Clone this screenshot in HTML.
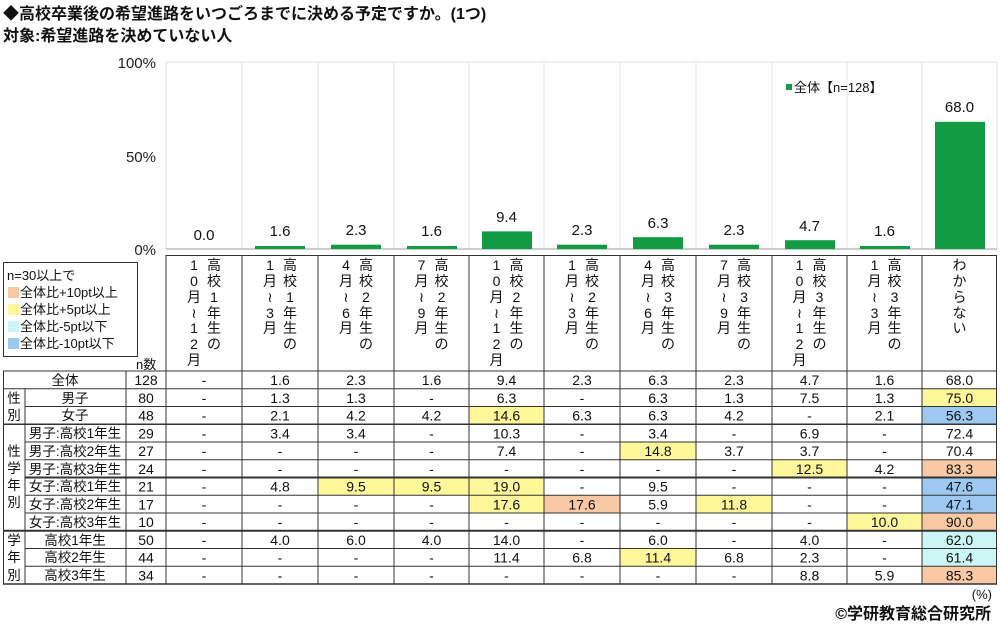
<!DOCTYPE html>
<html><head><meta charset="utf-8"><style>
body{margin:0;background:#fff}
svg{display:block;font-family:"Liberation Sans","Noto Sans CJK JP",sans-serif}
</style></head><body>
<svg width="1000" height="626" viewBox="0 0 1000 626" xmlns="http://www.w3.org/2000/svg">
<rect width="1000" height="626" fill="#fff"/>
<text x="3" y="19" font-size="16" font-weight="bold" fill="#111">◆高校卒業後の希望進路をいつごろまでに決める予定ですか。(1つ)</text>
<text x="3" y="41" font-size="16" font-weight="bold" fill="#111">対象:希望進路を決めていない人</text>
<g stroke="#e2e2e2" stroke-width="1">
<line x1="166" y1="62" x2="997" y2="62"/>
<line x1="166" y1="62" x2="166" y2="249"/><line x1="242" y1="62" x2="242" y2="249"/><line x1="318" y1="62" x2="318" y2="249"/><line x1="394" y1="62" x2="394" y2="249"/><line x1="469" y1="62" x2="469" y2="249"/><line x1="544" y1="62" x2="544" y2="249"/><line x1="620" y1="62" x2="620" y2="249"/><line x1="696" y1="62" x2="696" y2="249"/><line x1="772" y1="62" x2="772" y2="249"/><line x1="847" y1="62" x2="847" y2="249"/><line x1="922" y1="62" x2="922" y2="249"/><line x1="997" y1="62" x2="997" y2="249"/>
</g>
<line x1="166" y1="249" x2="997" y2="249" stroke="#999" stroke-width="1"/>
<g font-size="15" fill="#222" text-anchor="end">
<text x="156" y="68">100%</text><text x="156" y="162">50%</text><text x="156" y="255">0%</text>
</g>
<g fill="#139b43">
<rect x="255" y="246" width="50" height="3"/><rect x="331" y="244.7" width="50" height="4.3"/><rect x="407" y="246" width="50" height="3"/><rect x="482" y="231.4" width="50" height="17.6"/><rect x="557" y="244.7" width="50" height="4.3"/><rect x="633" y="237.2" width="50" height="11.8"/><rect x="709" y="244.7" width="50" height="4.3"/><rect x="785" y="240.2" width="50" height="8.8"/><rect x="860" y="246" width="50" height="3"/><rect x="935" y="121.8" width="50" height="127.2"/>
</g>
<g font-size="15" fill="#111" text-anchor="middle">
<text x="204" y="240">0.0</text><text x="280" y="236">1.6</text><text x="356" y="235">2.3</text><text x="431.5" y="236">1.6</text><text x="506.5" y="222">9.4</text><text x="582" y="235">2.3</text><text x="658" y="228">6.3</text><text x="734" y="235">2.3</text><text x="809.5" y="231">4.7</text><text x="884.5" y="236">1.6</text><text x="959.5" y="112">68.0</text>
</g>
<rect x="786" y="84" width="6" height="6" fill="#139b43"/>
<text x="794" y="92" font-size="13" fill="#111">全体【n=128】</text>
<rect x="3.5" y="262.5" width="134" height="94" fill="#fff" stroke="#333" stroke-width="1"/>
<g font-size="13" fill="#111">
<text x="7" y="280">n=30以上で</text>
<rect x="8" y="287" width="11" height="11" fill="#f8c9a4"/><text x="20" y="297">全体比+10pt以上</text>
<rect x="8" y="304" width="11" height="11" fill="#fff79a"/><text x="20" y="314">全体比+5pt以上</text>
<rect x="8" y="321" width="11" height="11" fill="#ccf6f6"/><text x="20" y="331">全体比-5pt以下</text>
<rect x="8" y="338" width="11" height="11" fill="#9dc8f0"/><text x="20" y="348">全体比-10pt以下</text>
</g>
<text x="136" y="369" font-size="13" fill="#111">n数</text>
<g>
<rect x="922" y="388.75" width="75" height="17.75" fill="#fff79a"/>
<rect x="469" y="406.5" width="75" height="17.75" fill="#fff79a"/>
<rect x="922" y="406.5" width="75" height="17.75" fill="#9dc8f0"/>
<rect x="620" y="442" width="76" height="17.75" fill="#fff79a"/>
<rect x="772" y="459.75" width="75" height="17.75" fill="#fff79a"/>
<rect x="922" y="459.75" width="75" height="17.75" fill="#f8c9a4"/>
<rect x="318" y="477.5" width="151" height="17.75" fill="#fff79a"/>
<rect x="469" y="477.5" width="75" height="17.75" fill="#fff79a"/>
<rect x="922" y="477.5" width="75" height="17.75" fill="#9dc8f0"/>
<rect x="469" y="495.25" width="75" height="17.75" fill="#fff79a"/>
<rect x="544" y="495.25" width="76" height="17.75" fill="#f8c9a4"/>
<rect x="696" y="495.25" width="76" height="17.75" fill="#fff79a"/>
<rect x="922" y="495.25" width="75" height="17.75" fill="#9dc8f0"/>
<rect x="847" y="513" width="75" height="17.75" fill="#fff79a"/>
<rect x="922" y="513" width="75" height="17.75" fill="#f8c9a4"/>
<rect x="922" y="530.75" width="75" height="17.75" fill="#ccf6f6"/>
<rect x="620" y="548.5" width="76" height="17.75" fill="#fff79a"/>
<rect x="922" y="548.5" width="75" height="17.75" fill="#ccf6f6"/>
<rect x="922" y="566.25" width="75" height="17.75" fill="#f8c9a4"/>
</g>
<g stroke="#333" stroke-width="1" fill="none">
<line x1="166" y1="255.5" x2="997" y2="255.5"/>
<line x1="3" y1="371" x2="997" y2="371"/>
<line x1="3" y1="388.75" x2="997" y2="388.75"/>
<line x1="25" y1="406.5" x2="997" y2="406.5"/>
<line x1="3" y1="424.25" x2="997" y2="424.25" stroke-width="1.5"/>
<line x1="25" y1="442" x2="997" y2="442"/>
<line x1="25" y1="459.75" x2="997" y2="459.75"/>
<line x1="25" y1="477.5" x2="997" y2="477.5" stroke-width="2"/>
<line x1="25" y1="495.25" x2="997" y2="495.25"/>
<line x1="25" y1="513" x2="997" y2="513"/>
<line x1="3" y1="530.75" x2="997" y2="530.75" stroke-width="2"/>
<line x1="25" y1="548.5" x2="997" y2="548.5"/>
<line x1="25" y1="566.25" x2="997" y2="566.25"/>
<line x1="3" y1="584" x2="997" y2="584" stroke-width="1.5"/>
<line x1="3.5" y1="371" x2="3.5" y2="584"/>
<line x1="25" y1="388.75" x2="25" y2="584"/>
<line x1="126" y1="371" x2="126" y2="584"/>
<line x1="166" y1="255" x2="166" y2="584"/>
<line x1="242" y1="255" x2="242" y2="584"/><line x1="318" y1="255" x2="318" y2="584"/><line x1="394" y1="255" x2="394" y2="584"/><line x1="469" y1="255" x2="469" y2="584"/><line x1="544" y1="255" x2="544" y2="584"/><line x1="620" y1="255" x2="620" y2="584"/><line x1="696" y1="255" x2="696" y2="584"/><line x1="772" y1="255" x2="772" y2="584"/><line x1="847" y1="255" x2="847" y2="584"/><line x1="922" y1="255" x2="922" y2="584"/><line x1="996.5" y1="255" x2="996.5" y2="584"/>
</g>
<g font-size="14" fill="#111" text-anchor="middle">
<g transform="translate(194,0)"><text y="270">1</text><text y="286">0</text><text y="302">月</text><text y="318">≀</text><text y="333">1</text><text y="349">2</text><text y="365">月</text></g>
<g transform="translate(214,0)"><text y="270">高</text><text y="286">校</text><text y="302">1</text><text y="318">年</text><text y="333">生</text><text y="349">の</text></g>
<g transform="translate(270,0)"><text y="270">1</text><text y="286">月</text><text y="302">≀</text><text y="318">3</text><text y="333">月</text></g>
<g transform="translate(290,0)"><text y="270">高</text><text y="286">校</text><text y="302">1</text><text y="318">年</text><text y="333">生</text><text y="349">の</text></g>
<g transform="translate(346,0)"><text y="270">4</text><text y="286">月</text><text y="302">≀</text><text y="318">6</text><text y="333">月</text></g>
<g transform="translate(366,0)"><text y="270">高</text><text y="286">校</text><text y="302">2</text><text y="318">年</text><text y="333">生</text><text y="349">の</text></g>
<g transform="translate(421.5,0)"><text y="270">7</text><text y="286">月</text><text y="302">≀</text><text y="318">9</text><text y="333">月</text></g>
<g transform="translate(441.5,0)"><text y="270">高</text><text y="286">校</text><text y="302">2</text><text y="318">年</text><text y="333">生</text><text y="349">の</text></g>
<g transform="translate(496.5,0)"><text y="270">1</text><text y="286">0</text><text y="302">月</text><text y="318">≀</text><text y="333">1</text><text y="349">2</text><text y="365">月</text></g>
<g transform="translate(516.5,0)"><text y="270">高</text><text y="286">校</text><text y="302">2</text><text y="318">年</text><text y="333">生</text><text y="349">の</text></g>
<g transform="translate(572,0)"><text y="270">1</text><text y="286">月</text><text y="302">≀</text><text y="318">3</text><text y="333">月</text></g>
<g transform="translate(592,0)"><text y="270">高</text><text y="286">校</text><text y="302">2</text><text y="318">年</text><text y="333">生</text><text y="349">の</text></g>
<g transform="translate(648,0)"><text y="270">4</text><text y="286">月</text><text y="302">≀</text><text y="318">6</text><text y="333">月</text></g>
<g transform="translate(668,0)"><text y="270">高</text><text y="286">校</text><text y="302">3</text><text y="318">年</text><text y="333">生</text><text y="349">の</text></g>
<g transform="translate(724,0)"><text y="270">7</text><text y="286">月</text><text y="302">≀</text><text y="318">9</text><text y="333">月</text></g>
<g transform="translate(744,0)"><text y="270">高</text><text y="286">校</text><text y="302">3</text><text y="318">年</text><text y="333">生</text><text y="349">の</text></g>
<g transform="translate(799.5,0)"><text y="270">1</text><text y="286">0</text><text y="302">月</text><text y="318">≀</text><text y="333">1</text><text y="349">2</text><text y="365">月</text></g>
<g transform="translate(819.5,0)"><text y="270">高</text><text y="286">校</text><text y="302">3</text><text y="318">年</text><text y="333">生</text><text y="349">の</text></g>
<g transform="translate(874.5,0)"><text y="270">1</text><text y="286">月</text><text y="302">≀</text><text y="318">3</text><text y="333">月</text></g>
<g transform="translate(894.5,0)"><text y="270">高</text><text y="286">校</text><text y="302">3</text><text y="318">年</text><text y="333">生</text><text y="349">の</text></g>
<g transform="translate(959.5,0)"><text y="270">わ</text><text y="286">か</text><text y="302">ら</text><text y="318">な</text><text y="333">い</text></g>
</g>
<g font-size="13.5" fill="#111" text-anchor="middle">
<text x="65" y="385">全体</text>
<text x="14" y="403">性</text><text x="14" y="420">別</text>
<text x="75" y="403">男子</text><text x="75" y="420">女子</text>
<text x="14" y="456">性</text><text x="14" y="473">学</text><text x="14" y="490">年</text><text x="14" y="507">別</text>
<text x="75" y="438">男子:高校1年生</text><text x="75" y="456">男子:高校2年生</text><text x="75" y="474">男子:高校3年生</text>
<text x="75" y="491">女子:高校1年生</text><text x="75" y="509">女子:高校2年生</text><text x="75" y="527">女子:高校3年生</text>
<text x="14" y="545">学</text><text x="14" y="562">年</text><text x="14" y="580">別</text>
<text x="75" y="545">高校1年生</text><text x="75" y="562">高校2年生</text><text x="75" y="580">高校3年生</text>
</g>
<g font-size="14" fill="#111" text-anchor="middle">
<g transform="translate(0,385)"><text x="146">128</text><text x="204">-</text><text x="280">1.6</text><text x="356">2.3</text><text x="431.5">1.6</text><text x="506.5">9.4</text><text x="582">2.3</text><text x="658">6.3</text><text x="734">2.3</text><text x="809.5">4.7</text><text x="884.5">1.6</text><text x="959.5">68.0</text></g>
<g transform="translate(0,402.75)"><text x="146">80</text><text x="204">-</text><text x="280">1.3</text><text x="356">1.3</text><text x="431.5">-</text><text x="506.5">6.3</text><text x="582">-</text><text x="658">6.3</text><text x="734">1.3</text><text x="809.5">7.5</text><text x="884.5">1.3</text><text x="959.5">75.0</text></g>
<g transform="translate(0,420.5)"><text x="146">48</text><text x="204">-</text><text x="280">2.1</text><text x="356">4.2</text><text x="431.5">4.2</text><text x="506.5">14.6</text><text x="582">6.3</text><text x="658">6.3</text><text x="734">4.2</text><text x="809.5">-</text><text x="884.5">2.1</text><text x="959.5">56.3</text></g>
<g transform="translate(0,438.25)"><text x="146">29</text><text x="204">-</text><text x="280">3.4</text><text x="356">3.4</text><text x="431.5">-</text><text x="506.5">10.3</text><text x="582">-</text><text x="658">3.4</text><text x="734">-</text><text x="809.5">6.9</text><text x="884.5">-</text><text x="959.5">72.4</text></g>
<g transform="translate(0,456)"><text x="146">27</text><text x="204">-</text><text x="280">-</text><text x="356">-</text><text x="431.5">-</text><text x="506.5">7.4</text><text x="582">-</text><text x="658">14.8</text><text x="734">3.7</text><text x="809.5">3.7</text><text x="884.5">-</text><text x="959.5">70.4</text></g>
<g transform="translate(0,473.75)"><text x="146">24</text><text x="204">-</text><text x="280">-</text><text x="356">-</text><text x="431.5">-</text><text x="506.5">-</text><text x="582">-</text><text x="658">-</text><text x="734">-</text><text x="809.5">12.5</text><text x="884.5">4.2</text><text x="959.5">83.3</text></g>
<g transform="translate(0,491.5)"><text x="146">21</text><text x="204">-</text><text x="280">4.8</text><text x="356">9.5</text><text x="431.5">9.5</text><text x="506.5">19.0</text><text x="582">-</text><text x="658">9.5</text><text x="734">-</text><text x="809.5">-</text><text x="884.5">-</text><text x="959.5">47.6</text></g>
<g transform="translate(0,509.25)"><text x="146">17</text><text x="204">-</text><text x="280">-</text><text x="356">-</text><text x="431.5">-</text><text x="506.5">17.6</text><text x="582">17.6</text><text x="658">5.9</text><text x="734">11.8</text><text x="809.5">-</text><text x="884.5">-</text><text x="959.5">47.1</text></g>
<g transform="translate(0,527)"><text x="146">10</text><text x="204">-</text><text x="280">-</text><text x="356">-</text><text x="431.5">-</text><text x="506.5">-</text><text x="582">-</text><text x="658">-</text><text x="734">-</text><text x="809.5">-</text><text x="884.5">10.0</text><text x="959.5">90.0</text></g>
<g transform="translate(0,544.75)"><text x="146">50</text><text x="204">-</text><text x="280">4.0</text><text x="356">6.0</text><text x="431.5">4.0</text><text x="506.5">14.0</text><text x="582">-</text><text x="658">6.0</text><text x="734">-</text><text x="809.5">4.0</text><text x="884.5">-</text><text x="959.5">62.0</text></g>
<g transform="translate(0,562.5)"><text x="146">44</text><text x="204">-</text><text x="280">-</text><text x="356">-</text><text x="431.5">-</text><text x="506.5">11.4</text><text x="582">6.8</text><text x="658">11.4</text><text x="734">6.8</text><text x="809.5">2.3</text><text x="884.5">-</text><text x="959.5">61.4</text></g>
<g transform="translate(0,580.25)"><text x="146">34</text><text x="204">-</text><text x="280">-</text><text x="356">-</text><text x="431.5">-</text><text x="506.5">-</text><text x="582">-</text><text x="658">-</text><text x="734">-</text><text x="809.5">8.8</text><text x="884.5">5.9</text><text x="959.5">85.3</text></g>
</g>
<text x="992" y="599" font-size="13" fill="#111" text-anchor="end">(%)</text>
<text x="991" y="619" font-size="16" font-weight="bold" fill="#111" text-anchor="end">©学研教育総合研究所</text>
</svg>
</body></html>
